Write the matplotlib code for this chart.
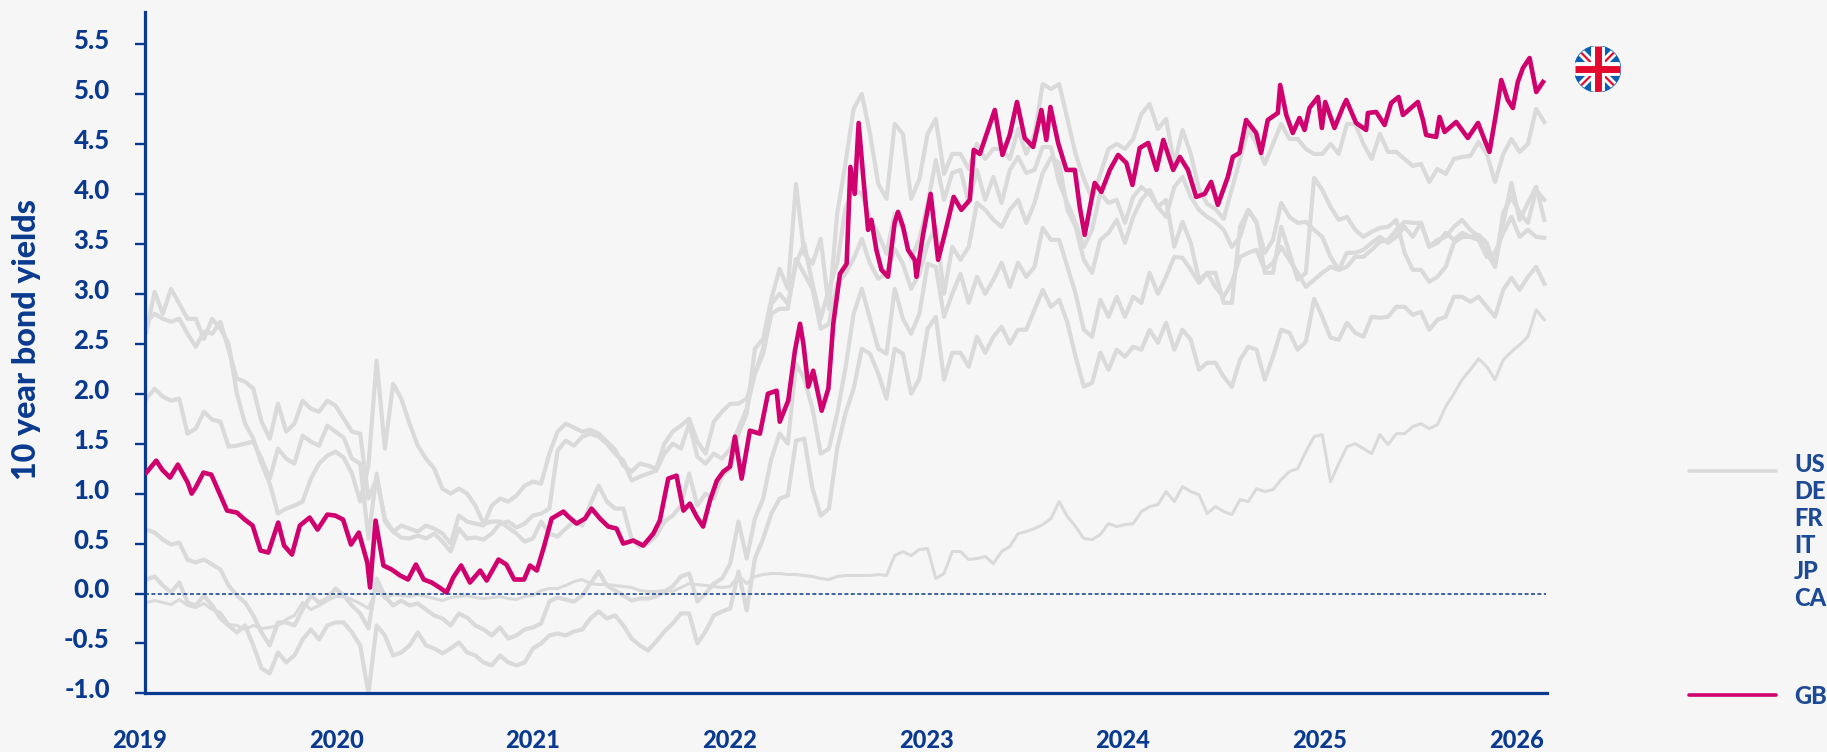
import numpy as np
import matplotlib
matplotlib.use("Agg")
import matplotlib.pyplot as plt
from matplotlib.lines import Line2D
from matplotlib.patches import Circle
from matplotlib.transforms import blended_transform_factory, ScaledTranslation

plt.rcParams['font.family'] = ['Lato', 'DejaVu Sans']

NAVY = '#0a3a8f'
PINK = '#d0006f'
GRAY = '#dadada'
BG = '#f6f6f6'
W, H = 1827, 752

YEARS = [2019, 2020, 2021, 2022, 2023, 2024, 2025, 2026]
YTICKS = [-1.0, -0.5, 0.0, 0.5, 1.0, 1.5, 2.0, 2.5, 3.0, 3.5, 4.0, 4.5, 5.0, 5.5]
LEGEND_GRAY = ['US', 'DE', 'FR', 'IT', 'JP', 'CA']

# Gray series: half-monthly readings
US = [2.72,2.80,2.75,2.72,2.75,2.60,2.47,2.62,2.60,2.72,2.44,2.15,2.12,2.05,1.72,1.55,1.90,1.62,1.70,1.93,1.85,1.82,1.93,1.88,
      1.75,1.62,1.60,0.95,1.15,0.75,0.62,0.68,0.65,0.62,0.68,0.65,0.60,0.50,0.78,0.72,0.70,0.68,0.88,0.95,0.92,0.98,1.08,1.12,
      1.10,1.40,1.62,1.70,1.66,1.62,1.64,1.60,1.52,1.44,1.28,1.22,1.30,1.28,1.25,1.50,1.62,1.68,1.75,1.52,1.40,1.72,1.82,1.90,
      1.90,1.95,2.20,2.45,2.90,3.00,2.90,3.30,3.50,3.10,2.75,3.05,3.30,3.85,4.05,4.00,3.75,3.60,3.40,3.80,3.65,3.35,3.55,3.90,
      4.34,3.94,4.21,4.24,3.91,4.24,3.94,4.17,3.91,4.24,4.37,4.21,4.24,4.47,4.47,4.11,3.91,3.71,3.47,3.64,4.01,3.91,3.94,3.71,
      3.97,4.07,4.00,3.87,3.77,
      4.07,4.17,3.97,3.84,3.77,3.72,3.64,3.47,3.57,3.84,3.71,3.41,3.54,3.91,3.77,3.71,3.72,3.64,3.57,3.37,3.24,3.27,3.37,3.37,
      3.44,3.52,3.54,3.64,3.72,3.71,3.71,3.47,3.54,3.57,3.67,3.74,3.64,3.57,3.41,3.27,3.81,3.97,3.81,3.71,4.04,3.94]
CA = [1.95,2.05,1.97,1.93,1.95,1.60,1.65,1.82,1.74,1.72,1.47,1.48,1.50,1.52,1.35,1.15,1.45,1.35,1.30,1.58,1.52,1.48,1.68,1.62,
      1.56,1.35,1.30,0.55,1.20,0.72,0.62,0.56,0.55,0.58,0.55,0.60,0.52,0.42,0.65,0.55,0.56,0.54,0.60,0.70,0.72,0.66,0.70,0.78,
      0.80,0.85,1.43,1.53,1.48,1.57,1.60,1.57,1.50,1.40,1.33,1.13,1.17,1.20,1.23,1.40,1.50,1.45,1.70,1.37,1.30,1.40,1.35,1.45,
      1.65,1.85,2.20,2.40,2.80,2.85,2.85,3.35,3.20,3.05,2.65,2.70,3.10,3.20,3.35,3.55,3.30,3.15,3.20,3.45,3.30,3.05,3.20,3.50,
      3.67,3.00,3.47,3.34,3.47,3.91,3.84,3.74,3.67,3.84,3.94,3.71,3.91,4.21,4.36,4.31,3.84,3.67,3.34,3.21,3.54,3.61,3.74,3.51,
      3.77,3.94,4.04,3.87,3.94,
      3.47,3.72,3.51,3.14,3.21,3.21,2.91,2.91,3.67,3.84,3.72,3.21,3.21,3.67,3.41,3.14,3.21,4.16,4.04,3.87,3.74,3.77,3.64,3.57,
      3.62,3.66,3.67,3.74,3.41,3.24,3.24,3.12,3.17,3.27,3.51,3.57,3.57,3.59,3.51,3.27,3.71,4.11,3.74,3.91,4.07,3.74]
IT = [2.62,3.02,2.80,3.05,2.90,2.75,2.75,2.55,2.75,2.65,2.50,2.00,1.70,1.55,1.30,1.10,0.80,0.85,0.88,0.92,1.15,1.30,1.38,1.42,
      1.36,1.20,0.92,1.28,2.33,1.45,2.10,1.95,1.70,1.48,1.35,1.25,1.05,1.00,1.05,1.00,0.88,0.70,0.72,0.72,0.66,0.60,0.52,0.55,
      0.72,0.60,0.57,0.65,0.72,0.68,0.90,1.08,0.92,0.85,0.85,0.55,0.47,0.50,0.58,0.72,0.78,0.88,1.20,0.88,1.00,0.95,1.18,1.25,
      1.60,1.80,2.45,2.55,2.95,3.25,3.05,4.10,3.40,3.30,3.55,2.85,3.80,4.30,4.85,5.00,4.60,4.10,3.95,4.70,4.60,3.95,4.15,4.60,
      4.75,4.20,4.40,4.40,4.25,4.50,4.35,4.45,4.45,4.35,4.65,4.40,4.60,5.10,5.05,5.10,4.75,4.40,4.15,3.95,4.20,4.45,4.50,4.45,
      4.55,4.80,4.90,4.65,4.75,
      4.30,4.64,4.40,4.05,3.90,3.85,3.75,4.05,4.35,4.65,4.50,4.30,4.50,4.70,4.55,4.55,4.45,4.40,4.40,4.50,4.40,4.70,4.70,4.50,
      4.35,4.60,4.42,4.42,4.35,4.28,4.30,4.12,4.25,4.20,4.35,4.37,4.38,4.52,4.40,4.12,4.40,4.55,4.42,4.50,4.85,4.72]
FR = [0.64,0.61,0.54,0.49,0.51,0.34,0.31,0.34,0.29,0.24,0.08,-0.02,-0.09,-0.22,-0.39,-0.52,-0.29,-0.29,-0.32,-0.16,-0.02,-0.09,-0.05,0.05,
      -0.02,-0.12,-0.20,-0.35,0.15,-0.03,-0.12,-0.07,-0.12,-0.10,-0.16,-0.22,-0.25,-0.32,-0.20,-0.24,-0.32,-0.36,-0.42,-0.34,-0.45,-0.42,-0.36,-0.34,
      -0.30,-0.08,-0.04,-0.06,-0.08,-0.02,0.10,0.22,0.08,0.03,-0.02,-0.07,-0.05,-0.05,-0.03,0.02,0.07,0.17,0.20,-0.08,0.00,0.10,0.15,0.30,
      0.72,0.35,0.75,0.95,1.35,1.60,1.50,2.30,2.15,1.85,1.40,1.45,1.80,2.25,2.80,3.05,2.75,2.45,2.40,3.05,2.75,2.60,2.80,3.30,
      3.27,2.77,3.00,3.20,2.91,3.17,3.00,3.14,3.31,3.07,3.31,3.17,3.27,3.66,3.54,3.54,3.27,3.00,2.64,2.57,2.94,2.77,2.97,2.77,
      2.97,2.91,3.21,3.00,3.17,
      3.37,3.36,3.24,3.11,3.21,3.07,2.97,3.11,3.37,3.41,3.44,3.24,3.31,3.47,3.34,3.21,3.07,3.14,3.21,3.27,3.24,3.41,3.41,3.44,
      3.51,3.57,3.51,3.57,3.67,3.57,3.71,3.47,3.51,3.61,3.54,3.61,3.57,3.54,3.37,3.41,3.61,3.77,3.57,3.64,3.57,3.56]
DE = [0.14,0.17,0.08,0.01,0.11,-0.09,-0.12,-0.02,-0.12,-0.25,-0.32,-0.39,-0.32,-0.52,-0.75,-0.80,-0.59,-0.69,-0.62,-0.46,-0.36,-0.46,-0.32,-0.29,
      -0.29,-0.39,-0.52,-1.00,-0.32,-0.42,-0.62,-0.59,-0.52,-0.39,-0.52,-0.55,-0.60,-0.55,-0.49,-0.59,-0.62,-0.69,-0.72,-0.62,-0.69,-0.72,-0.69,-0.55,
      -0.50,-0.42,-0.40,-0.42,-0.38,-0.36,-0.25,-0.18,-0.25,-0.22,-0.32,-0.45,-0.52,-0.57,-0.48,-0.38,-0.30,-0.20,-0.20,-0.50,-0.38,-0.22,-0.18,-0.15,
      0.22,-0.17,0.35,0.55,0.80,0.95,0.98,1.53,1.55,1.05,0.78,0.85,1.45,1.80,2.05,2.45,2.40,2.20,1.95,2.45,2.40,2.00,2.15,2.65,
      2.77,2.14,2.41,2.41,2.27,2.57,2.41,2.57,2.67,2.50,2.64,2.64,2.84,3.04,2.87,2.94,2.71,2.37,2.07,2.11,2.41,2.24,2.44,2.37,
      2.47,2.44,2.64,2.51,2.71,
      2.44,2.64,2.54,2.24,2.31,2.31,2.17,2.07,2.34,2.47,2.44,2.14,2.37,2.64,2.61,2.44,2.52,2.95,2.77,2.56,2.54,2.71,2.61,2.57,
      2.77,2.76,2.77,2.87,2.87,2.79,2.82,2.64,2.74,2.77,2.97,2.97,2.92,2.97,2.87,2.77,3.04,3.16,3.04,3.17,3.27,3.10]
JP = [-0.09,-0.07,-0.09,-0.11,-0.06,-0.12,-0.14,-0.10,-0.16,-0.19,-0.31,-0.32,-0.36,-0.32,-0.35,-0.34,-0.32,-0.26,-0.22,-0.09,-0.16,-0.12,-0.07,-0.03,
      -0.03,-0.06,-0.10,-0.15,0.05,-0.05,-0.01,-0.02,-0.03,-0.01,-0.03,-0.05,-0.07,-0.04,-0.03,-0.02,-0.04,-0.05,-0.04,-0.03,-0.05,-0.06,-0.03,-0.02,
      0.03,0.05,0.05,0.08,0.12,0.14,0.10,0.09,0.09,0.08,0.07,0.06,0.03,0.02,0.02,0.03,0.02,0.06,0.10,0.09,0.08,0.07,0.06,0.07,
      0.18,0.10,0.17,0.19,0.20,0.20,0.19,0.19,0.18,0.17,0.15,0.14,0.17,0.18,0.18,0.18,0.18,0.19,0.18,0.38,0.42,0.38,0.44,0.45,
      0.15,0.20,0.42,0.42,0.34,0.35,0.37,0.30,0.42,0.47,0.60,0.62,0.65,0.69,0.75,0.92,0.77,0.67,0.55,0.54,
      0.59,0.70,0.67,0.69,0.70,0.82,0.87,0.89,1.02,0.92,1.07,1.02,0.99,0.80,0.87,0.82,0.79,0.94,0.92,1.05,1.02,1.04,1.14,1.22,
      1.25,1.42,1.57,1.59,1.12,1.30,1.47,1.50,1.45,1.40,1.59,1.49,1.60,1.60,1.67,1.70,1.65,1.69,1.87,2.00,2.14,2.24,2.35,2.27,
      2.14,2.34,2.42,2.49,2.57,2.84,2.74]

# Highlighted series: readings at their own decimal-year dates
GB_2019_D = [.03,.08,.11,.15,.19,.24,.26,.28,.32,.36,.40,.44,.49,.53,.57,.61,.65,.70,.73,.77,.81,.86,.90,.95,.99]
GB_2019_V = [1.21,1.33,1.24,1.16,1.29,1.11,1.00,1.06,1.21,1.19,1.01,.83,.81,.74,.68,.43,.41,.71,.48,.39,.68,.76,.64,.79,.78]
GB_2020_D = [.03,.07,.11,.153,.167,.195,.235,.277,.32,.36,.40,.44,.48,.52,.556,.59,.63,.675,.727,.76,.82,.86,.90,.95,.98]
GB_2020_V = [.74,.49,.61,.31,.06,.73,.28,.24,.18,.14,.29,.14,.11,.06,.01,.16,.28,.11,.23,.13,.34,.29,.14,.14,.28]
GB_2021_D = [.015,.05,.09,.15,.175,.217,.26,.293,.336,.378,.42,.454,.505,.556,.607,.64,.683,.725,.76,.793,.827,.86,.895,.93,.963,.997]
GB_2021_V = [.23,.46,.75,.82,.77,.70,.75,.85,.75,.67,.65,.5,.53,.48,.60,.73,1.15,1.18,.83,.90,.77,.67,.93,1.13,1.22,1.27]
GB_2022_D = [.022,.056,.098,.149,.19,.234,.25,.293,.327,.353,.37,.395,.42,.463,.497,.522,.556,.59,
             .609,.631,.651,.673,.699,.716,.741,.767,.80,.834,.851,.877,.902,.936,.945,.979]
GB_2022_V = [1.57,1.15,1.63,1.6,2.0,2.03,1.72,1.93,2.43,2.7,2.5,2.07,2.23,1.83,2.05,2.7,3.2,3.3,
             4.27,4.0,4.71,4.2,3.64,3.74,3.44,3.24,3.17,3.71,3.82,3.67,3.44,3.34,3.17,3.6]
GB_2023_D = [.017,.055,.089,.134,.173,.216,.236,.267,.30,.343,.382,.419,.456,.495,.538,.58,.605,.626,.665,.707,.75,.775,.80,.851,.885,.928,.97]
GB_2023_V = [4.0,3.34,3.6,3.97,3.84,3.94,4.44,4.4,4.59,4.84,4.39,4.59,4.92,4.56,4.47,4.84,4.54,4.87,4.51,4.24,4.24,3.87,3.59,4.11,4.02,4.24,4.39]
GB_2024_D = [.012,.043,.08,.123,.165,.2,.25,.284,.325,.367,.41,.443,.477,.528,.553,.587,.621,.672,.697,.731,.782,.794,.825,.858,.892,.918,.943,.986]
GB_2024_V = [4.31,4.09,4.46,4.51,4.24,4.54,4.24,4.37,4.24,3.97,4.0,4.12,3.89,4.17,4.37,4.41,4.74,4.61,4.41,4.74,4.81,5.09,4.79,4.61,4.76,4.64,4.86,4.97]
GB_2025_D = [.006,.023,.07,.113,.13,.18,.231,.24,.282,.325,.358,.396,.418,.494,.52,.536,.587,.604,.63,.689,.748,.8,.833,.858,.892,.918,.951,.977]
GB_2025_V = [4.66,4.92,4.66,4.87,4.94,4.71,4.64,4.81,4.82,4.69,4.91,4.97,4.79,4.92,4.74,4.59,4.57,4.77,4.62,4.72,4.56,4.71,4.54,4.42,4.81,5.14,4.94,4.86]
GB_2026_D = [.002,.028,.062,.096,.13]
GB_2026_V = [5.12,5.26,5.36,5.02,5.12]

GB_PARTS = [(2019, GB_2019_D, GB_2019_V), (2020, GB_2020_D, GB_2020_V), (2021, GB_2021_D, GB_2021_V),
            (2022, GB_2022_D, GB_2022_V), (2023, GB_2023_D, GB_2023_V), (2024, GB_2024_D, GB_2024_V),
            (2025, GB_2025_D, GB_2025_V), (2026, GB_2026_D, GB_2026_V)]
GB_T = np.concatenate([y + np.array(d) for y, d, v in GB_PARTS])
GB = np.concatenate([np.array(v) for y, d, v in GB_PARTS])

fig = plt.figure(figsize=(W / 100, H / 100), dpi=100, facecolor=BG)
L, R, B, T = 144.5, 1547, 693.4, 12
ax = fig.add_axes([L / W, 1 - B / H, (R - L) / W, (B - T) / H], facecolor=BG)

def year_at(px):
    return 2019 + (px - 140.5) / 196.7

ax.set_xlim(year_at(L), year_at(R))
ax.set_ylim(-1.0, -1.0 + (B - T) / 99.9)

START, END = 2019.03, 2026.137
for s, width in [(US, 3.0), (CA, 3.0), (IT, 3.0), (FR, 3.0), (DE, 3.0), (JP, 2.2)]:
    ax.plot(np.linspace(START, END, len(s)), s, color=GRAY, lw=width, solid_joinstyle='round', zorder=2)
ax.plot(GB_T, GB, color=PINK, lw=3.3, solid_joinstyle='round', zorder=3)
ax.plot([year_at(L), END + 0.01], [0, 0], color=NAVY, lw=1.1, ls=(0, (2.6, 1.6)), zorder=4)

for sp in ['top', 'right']:
    ax.spines[sp].set_visible(False)
for sp in ['left', 'bottom']:
    ax.spines[sp].set_color(NAVY)
    ax.spines[sp].set_linewidth(2.3)

ax.set_yticks(YTICKS)
ax.set_yticklabels([f'{v:.1f}' for v in YTICKS], color=NAVY, fontsize=18.5, fontweight=900)
ax.tick_params(axis='y', length=7, width=1.7, color=NAVY, pad=18)
up = ScaledTranslation(0, 5 / 100, fig.dpi_scale_trans)
for lab in ax.get_yticklabels():
    lab.set_transform(lab.get_transform() + up)
ax.set_xticks([])

tr = blended_transform_factory(ax.transData, fig.transFigure)
for y in YEARS:
    ax.text(y - 0.005, 1 - 741 / H, str(y), transform=tr, ha='center', va='center', color=NAVY,
            fontsize=17, fontweight=900, clip_on=False)

fig.text(27 / W, 1 - 339 / H, '10 year bond yields', rotation=90, ha='center', va='center',
         color=NAVY, fontsize=23.2, fontweight=900)

# Legend
fig.add_artist(Line2D([1689 / W, 1776 / W], [1 - 471 / H] * 2, color=GRAY, lw=2.6, solid_capstyle='round'))
fig.add_artist(Line2D([1689 / W, 1776 / W], [1 - 695 / H] * 2, color=PINK, lw=2.6, solid_capstyle='round'))
for i, name in enumerate(LEGEND_GRAY):
    fig.text(1794 / W, 1 - (465 + i * 26.7) / H, name, ha='left', va='center', color='#1d4a96',
             fontsize=17, fontweight=900)
fig.text(1794 / W, 1 - 697 / H, 'GB', ha='left', va='center', color='#1d4a96', fontsize=17, fontweight=900)

# Flag badge
cx, cy, r = 1597.5, 69, 23
fa = fig.add_axes([(cx - r) / W, 1 - (cy + r) / H, 2 * r / W, 2 * r / H])
fa.set_xlim(-1, 1); fa.set_ylim(-1, 1); fa.axis('off')
clip = Circle((0, 0), 1, transform=fa.transData)
bg = Circle((0, 0), 1, color='#0a5fb4')
fa.add_patch(bg)
shapes = [(([-1, 1], [-1, 1]), 'white', 5.5), (([-1, 1], [1, -1]), 'white', 5.5),
          (([-1, 1], [-1, 1]), '#e30a2e', 1.6), (([-1, 1], [1, -1]), '#e30a2e', 1.6),
          (([-1, 1], [0, 0]), 'white', 10), (([0, 0], [-1, 1]), 'white', 10),
          (([-1, 1], [0, 0]), '#e30a2e', 5), (([0, 0], [-1, 1]), '#e30a2e', 5)]
for (xs, ys), c, lw in shapes:
    ln, = fa.plot(xs, ys, color=c, lw=lw, solid_capstyle='butt')
    ln.set_clip_path(clip)

fig.savefig('out.png', dpi=100, facecolor=BG)
